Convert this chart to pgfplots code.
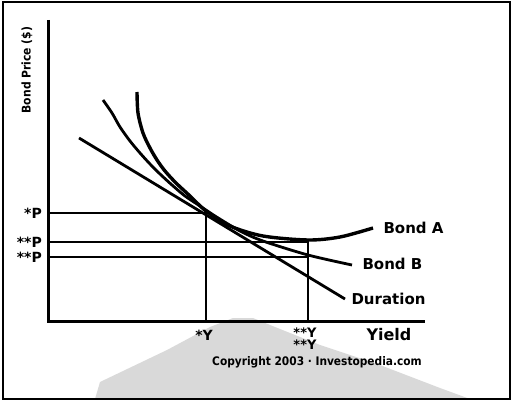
\documentclass[border=0pt]{standalone}
\usepackage{pgfplots}
\pgfplotsset{compat=1.18}
\usepackage{fontspec}
\setmainfont{DejaVu Sans}
\newfontfamily\condfont{DejaVu Sans Condensed}
\begin{document}
\begin{tikzpicture}
\begin{axis}[
  width=512pt, height=401pt, scale only axis,
  xmin=0, xmax=512, ymin=0, ymax=401, y dir=reverse,
  hide axis, clip=false,
]
% bounding corners
\addplot[draw=none] coordinates {(0,0) (512,401)};
% watermark
\addplot[fill=black!15, draw=none] coordinates {(95,399) (100,382) (167,350) (210,327) (233,318) (253,318) (275,327) (320,345) (380,365) (440,388) (470,399)} -- cycle;
% frame
\addplot[black, line width=1.5pt] coordinates {(3,2) (510,2) (510,399) (3,399)} -- cycle;
% axes
\addplot[black, line width=3pt] coordinates {(48,20) (48,321) (425,321)};
% reference lines
\addplot[black, line width=2pt] coordinates {(48,213) (206,213)};
\addplot[black, line width=2pt] coordinates {(48,242) (308,242)};
\addplot[black, line width=2pt] coordinates {(48,257) (308,257)};
\addplot[black, line width=2pt] coordinates {(206,213) (206,321)};
\addplot[black, line width=2pt] coordinates {(308,240) (308,321)};
% Duration
\addplot[black, line width=2.8pt] coordinates {(79,138) (345,299)};
% Bond B
\addplot[black, line width=2.8pt, smooth] coordinates {(103,100) (112,113) (120,127) (130,141) (140,153) (150,164) (160,174) (172,185) (185,196) (200,206) (215,216) (240,231) (263,241) (308,255) (352,265)};
% Bond A
\addplot[black, line width=3.4pt, smooth] coordinates {(137,92) (138,113) (143,133) (150,148) (157,160) (165,171) (176,183) (190,196) (206,211) (230,226) (263,236) (308,240) (340,237) (373,228)};
% labels
\node[font=\bfseries\fontsize{15}{15}\selectfont, anchor=west] at (axis cs:380,228) {Bond A};
\node[font=\bfseries\fontsize{15}{15}\selectfont, anchor=west] at (axis cs:359,264) {Bond B};
\node[font=\bfseries\fontsize{15}{15}\selectfont, anchor=west] at (axis cs:348,299) {Duration};
\node[font=\bfseries\fontsize{16}{16}\selectfont, anchor=west] at (axis cs:363,335) {Yield};
\node[font=\bfseries\fontsize{14}{14}\selectfont, anchor=east, inner sep=0pt] at (axis cs:42,213) {*P};
\node[font=\bfseries\fontsize{14}{14}\selectfont, anchor=east, inner sep=0pt] at (axis cs:42,242) {**P};
\node[font=\bfseries\fontsize{14}{14}\selectfont, anchor=east, inner sep=0pt] at (axis cs:42,257) {**P};
\node[font=\bfseries\fontsize{14}{14}\selectfont, inner sep=0pt] at (axis cs:204,335) {*Y};
\node[font=\bfseries\fontsize{13}{13}\selectfont, inner sep=0pt] at (axis cs:305,333) {**Y};
\node[font=\bfseries\fontsize{13}{13}\selectfont, inner sep=0pt] at (axis cs:305,345) {**Y};
\node[font=\condfont\bfseries\fontsize{11.8}{11.8}\selectfont, inner sep=0pt] at (axis cs:317,362) {Copyright 2003 · Investopedia.com};
\node[font=\condfont\bfseries\fontsize{12}{12}\selectfont, rotate=90, inner sep=0pt] at (axis cs:27,70) {Bond Price (\$)};
\end{axis}
\end{tikzpicture}
\end{document}
